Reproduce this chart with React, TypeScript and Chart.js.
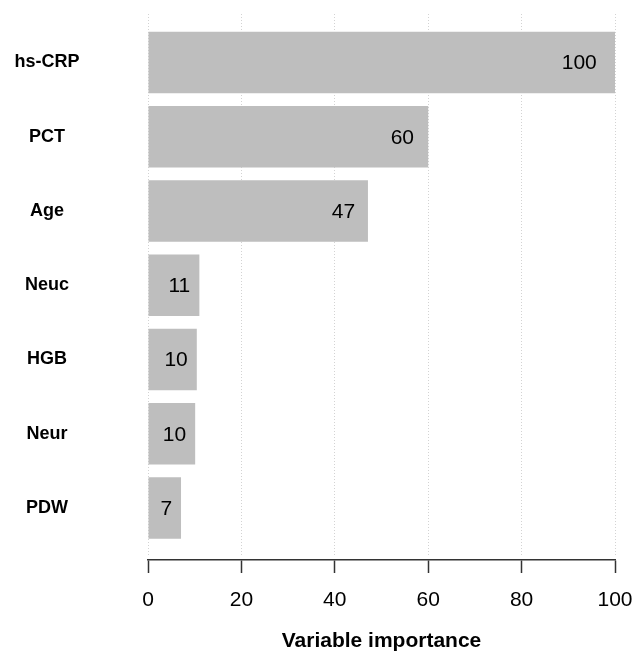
import React, { useEffect, useRef } from "react";
import { Chart, registerables } from "chart.js";

Chart.register(...registerables);

const categories = ["hs-CRP", "PCT", "Age", "Neuc", "HGB", "Neur", "PDW"];
const importance = [100, 60, 47.1, 11.0, 10.45, 10.1, 7.07];
const xTicks = [0, 20, 40, 60, 80, 100];
const xTitle = "Variable importance";

const FONT = "'Liberation Sans', Arial, Helvetica, sans-serif";

const valueLabelPlugin = {
  id: "valueLabels",
  afterDatasetsDraw(chart: any) {
    const ctx = chart.ctx;
    const meta = chart.getDatasetMeta(0);
    ctx.save();
    ctx.font = `21px ${FONT}`;
    ctx.fillStyle = "#000000";
    ctx.textAlign = "right";
    ctx.textBaseline = "middle";
    meta.data.forEach((bar: any, i: number) => {
      const len = bar.x - bar.base;
      const pad = 8 + 0.022 * len;
      ctx.fillText(importance[i].toFixed(0), bar.x - pad, bar.y + 1);
    });
    ctx.restore();
  },
};

export default function App() {
  const ref = useRef<HTMLCanvasElement | null>(null);

  useEffect(() => {
    if (!ref.current) return;
    Chart.defaults.font.family = FONT;
    const chart = new Chart(ref.current, {
      type: "bar",
      data: {
        datasets: [
          {
            data: categories.map((c, i) => ({ x: importance[i], y: i })),
            backgroundColor: "#BEBEBE",
            borderWidth: 0,
            categoryPercentage: 1,
            barPercentage: 0.828,
          },
        ],
      },
      plugins: [valueLabelPlugin],
      options: {
        indexAxis: "y",
        animation: false,
        responsive: false,
        layout: { padding: { top: 14, right: 23, bottom: 0, left: 0 } },
        plugins: { legend: { display: false }, tooltip: { enabled: false } },
        scales: {
          y: {
            type: "linear",
            position: "left",
            reverse: true,
            offset: false,
            min: -0.653,
            max: 6.633,
            afterBuildTicks: (scale: any) => {
              scale.ticks = categories.map((_, i) => ({ value: i }));
            },
            afterFit: (scale: any) => {
              scale.width = 148;
              scale.paddingTop = 0;
              scale.paddingBottom = 0;
            },
            grid: { display: false, drawTicks: false, offset: false },
            border: { display: false },
            ticks: {
              autoSkip: false,
              crossAlign: "center",
              padding: 68.5,
              color: "#000000",
              font: { size: 18, weight: "bold", family: FONT },
              callback: (v: any) => categories[v as number] ?? "",
            },
          },
          x: {
            type: "linear",
            position: "bottom",
            min: 0,
            max: 100,
            weight: 0,
            afterBuildTicks: (scale: any) => {
              scale.ticks = xTicks.map((v) => ({ value: v }));
            },
            afterFit: (scale: any) => {
              scale.height = 5;
              scale.paddingLeft = 0;
              scale.paddingRight = 0;
            },
            grid: { color: "#D3D3D3", lineWidth: 1, drawTicks: false },
            border: { display: false, dash: [1, 2] },
            ticks: { display: false },
          },
          x2: {
            type: "linear",
            position: "bottom",
            min: 0,
            max: 100,
            weight: 1,
            afterBuildTicks: (scale: any) => {
              scale.ticks = xTicks.map((v) => ({ value: v }));
            },
            afterFit: (scale: any) => {
              scale.height = 94;
              scale.paddingLeft = 0;
              scale.paddingRight = 0;
            },
            grid: {
              drawOnChartArea: false,
              drawTicks: true,
              tickLength: 13,
              tickColor: "#333333",
              tickWidth: 1.5,
            },
            border: { display: true, color: "#333333", width: 1.5 },
            ticks: {
              color: "#000000",
              padding: 15,
              maxRotation: 0,
              font: { size: 21, family: FONT },
            },
            title: {
              display: true,
              text: xTitle,
              color: "#000000",
              font: { size: 21, weight: "bold", family: FONT },
              padding: { top: 0, bottom: 0 },
            },
          },
        },
      } as any,
    });
    return () => chart.destroy();
  }, []);

  return (
    <div style={{ position: "fixed", left: 0, top: 0, width: 638, height: 654, background: "#ffffff" }}>
      <canvas ref={ref} width={638} height={654} style={{ width: 638, height: 654, display: "block" }} />
    </div>
  );
}
